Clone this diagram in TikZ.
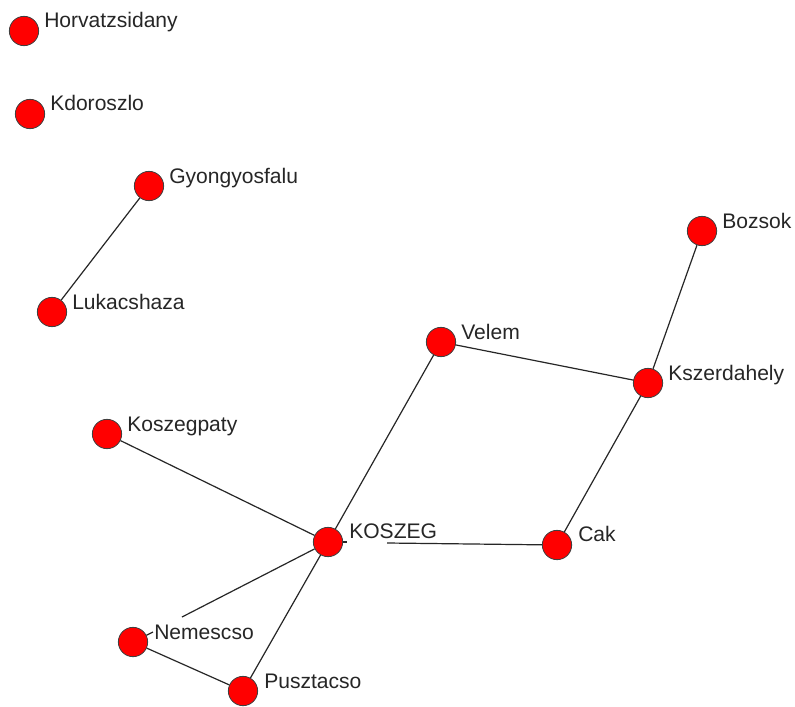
\documentclass[tikz,border=0pt]{standalone}
\usepackage{fontspec}
\setmainfont{Liberation Sans}
\begin{document}
\begin{tikzpicture}[x=0.75pt,y=-0.75pt,
  vert/.style={circle,minimum size=22pt,inner sep=0pt,fill=red,draw=black!75,line width=0.6pt},
  lab/.style={anchor=base west,inner sep=0pt,text=black!85,font=\fontsize{15.8}{18}\selectfont},
  edge/.style={draw=black!85,line width=0.9pt}]
\useasboundingbox (0,0) rectangle (795,706);
\fill[white] (0,0) rectangle (795,706);
% vertices
\coordinate (pH) at (24,31);
\coordinate (pKd) at (30,114);
\coordinate (pG) at (149,186);
\coordinate (pL) at (52,312);
\coordinate (pB) at (702,231);
\coordinate (pV) at (441,342);
\coordinate (pKs) at (648,383);
\coordinate (pKp) at (107,434);
\coordinate (pK) at (328,542);
\coordinate (pC) at (557,545);
\coordinate (pN) at (133,642);
\coordinate (pP) at (243,691);
% gap coordinates
\coordinate (kgapa) at (347,542);
\coordinate (kgapb) at (387,543);
\coordinate (ngapa) at (182,617);
\coordinate (ngapb) at (153,632);
% nodes
\node[vert] (Horvatzsidany) at (pH) {};
\node[vert] (Kdoroszlo) at (pKd) {};
\node[vert] (Gyongyosfalu) at (pG) {};
\node[vert] (Lukacshaza) at (pL) {};
\node[vert] (Bozsok) at (pB) {};
\node[vert] (Velem) at (pV) {};
\node[vert] (Kszerdahely) at (pKs) {};
\node[vert] (Koszegpaty) at (pKp) {};
\node[vert] (KOSZEG) at (pK) {};
\node[vert] (Cak) at (pC) {};
\node[vert] (Nemescso) at (pN) {};
\node[vert] (Pusztacso) at (pP) {};
% edges
\path[edge] (Gyongyosfalu) -- (Lukacshaza);
\path[edge] (Bozsok) -- (Kszerdahely);
\path[edge] (Velem) -- (Kszerdahely);
\path[edge] (Kszerdahely) -- (Cak);
\path[edge] (Velem) -- (KOSZEG);
\path[edge] (Koszegpaty) -- (KOSZEG);
\path[edge] (KOSZEG) -- (kgapa);
\path[edge] (kgapb) -- (Cak);
\path[edge] (KOSZEG) -- (ngapa);
\path[edge] (Nemescso) -- (ngapb);
\path[edge] (Nemescso) -- (Pusztacso);
\path[edge] (KOSZEG) -- (Pusztacso);
% labels
\node[lab] (lH) at ([shift={(20,-3)}]pH) {Horvatzsidany};
\node[lab] (lKd) at ([shift={(20,-3)}]pKd) {Kdoroszlo};
\node[lab] (lG) at ([shift={(20,-3)}]pG) {Gyongyosfalu};
\node[lab] (lL) at ([shift={(20,-3)}]pL) {Lukacshaza};
\node[lab] (lB) at ([shift={(20,-3)}]pB) {Bozsok};
\node[lab] (lV) at ([shift={(20,-3)}]pV) {Velem};
\node[lab] (lKs) at ([shift={(20,-3)}]pKs) {Kszerdahely};
\node[lab] (lKp) at ([shift={(20,-3)}]pKp) {Koszegpaty};
\node[lab] (lK) at ([shift={(21,-4)}]pK) {KOSZEG};
\node[lab] (lC) at ([shift={(21,-4)}]pC) {Cak};
\node[lab] (lN) at ([shift={(21,-3)}]pN) {Nemescso};
\node[lab] (lP) at ([shift={(21,-3)}]pP) {Pusztacso};
\end{tikzpicture}
\end{document}
